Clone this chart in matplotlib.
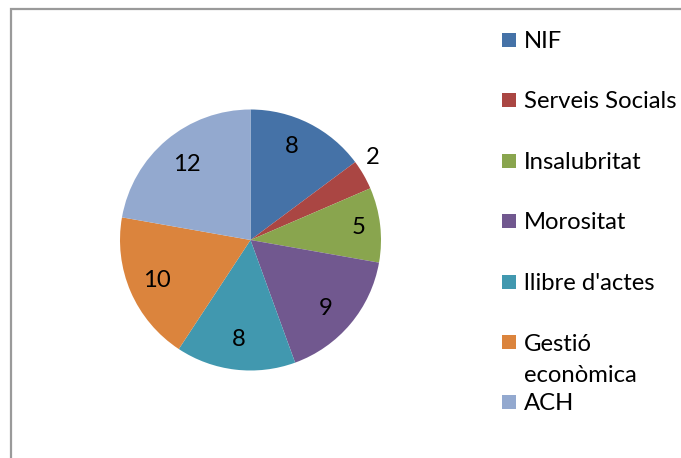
import matplotlib
matplotlib.use("Agg")
import matplotlib.pyplot as plt
from matplotlib.patches import Rectangle
import numpy as np

# Data
categories = ["NIF", "Serveis Socials", "Insalubritat", "Morositat",
              "llibre d'actes", "Gestió\neconòmica", "ACH"]
values = [8, 2, 5, 9, 8, 10, 12]
colors = ["#4572A7", "#AA4643", "#89A54E", "#71588F",
          "#4198AF", "#DB843D", "#93A9CF"]

W, H = 681, 458
FS = 17.2
plt.rcParams["font.family"] = ["Lato", "DejaVu Sans"]

fig = plt.figure(figsize=(W / 100, H / 100), dpi=100)
ax = fig.add_axes([0, 0, 1, 1])

# pie in pixel coordinates (y up)
cx, cy, r = 250.5, H - 240, 130.5
wedges, _ = ax.pie(values, colors=colors, startangle=90, counterclock=False,
                   center=(cx, cy), radius=r, frame=True,
                   wedgeprops=dict(linewidth=0))

# value labels: distance from centre as fraction of radius,
# plus a small angular nudge (degrees) for a few slices
label_dist = [0.78, 1.13, 0.83, 0.78, 0.77, 0.78, 0.76]
label_nudge = [3, 4, 0, -2, 0, 0, 0]
for w, v, d, a in zip(wedges, values, label_dist, label_nudge):
    ang = np.deg2rad((w.theta1 + w.theta2) / 2 + a)
    ax.text(cx + d * r * np.cos(ang), cy + d * r * np.sin(ang), str(v),
            ha="center", va="center", fontsize=FS, color="black")

# legend
leg_x, leg_y0, leg_step, sq = 502, 40, 60.4, 14
line_gap = 32
for i, (name, c) in enumerate(zip(categories, colors)):
    yc = H - (leg_y0 + i * leg_step)
    ax.add_patch(Rectangle((leg_x, yc - sq / 2), sq, sq, facecolor=c,
                           edgecolor="none"))
    extra = name.count("\n") * line_gap
    ax.text(leg_x + 22, yc - 8 - extra, name, ha="left", va="baseline",
            fontsize=FS, color="black", linespacing=1.56)

# chart frame
ax.add_patch(Rectangle((11, -20), W + 40, H - 9 + 20, facecolor="none",
                       edgecolor="#9a9a9a", linewidth=1.6))

ax.set_xlim(0, W)
ax.set_ylim(0, H)
ax.set_aspect("auto")
ax.set_axis_off()
fig.savefig("out.png", dpi=100, facecolor="white")
